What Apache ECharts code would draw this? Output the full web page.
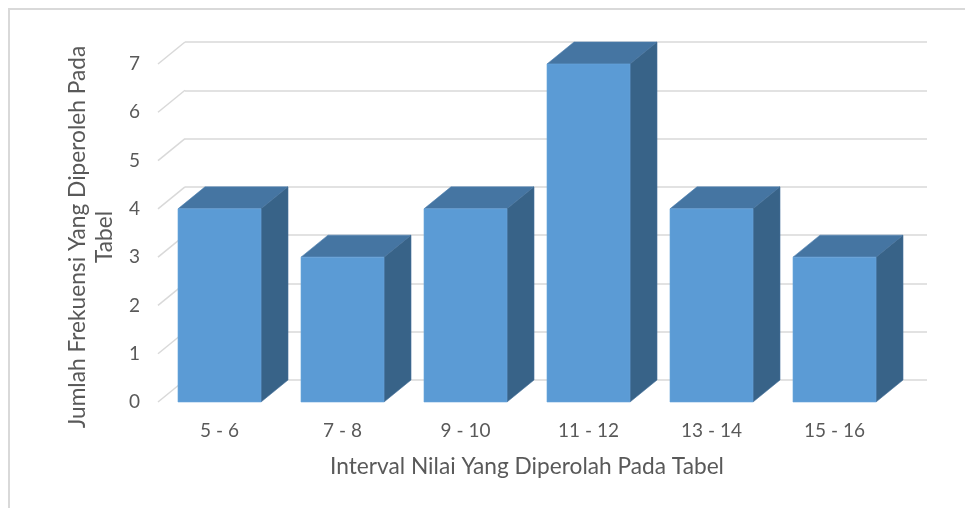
<!DOCTYPE html>
<html>
<head>
<meta charset="utf-8">
<script src="https://cdn.jsdelivr.net/npm/echarts@6/dist/echarts.min.js"></script>
<style>
html,body{margin:0;padding:0;background:#fff;}
#chart{width:965px;height:508px;}
</style>
</head>
<body>
<div id="chart"></div>
<script>
const categories = ['5 - 6', '7 - 8', '9 - 10', '11 - 12', '13 - 14', '15 - 16'];
const frequencies = [4, 3, 4, 7, 4, 3];
const yTicks = [0, 1, 2, 3, 4, 5, 6, 7];
const xTitle = 'Interval Nilai Yang Diperolah Pada Tabel';
const yTitle = 'Jumlah Frekuensi Yang Diperoleh Pada\nTabel';

const FONT = 'Lato';
const TEXT = '#595959';
const GRIDC = '#d9d9d9';
const DX = 27, DY = -22;

const chart = echarts.init(document.getElementById('chart'), null, {renderer: 'canvas'});

function renderBar(params, api) {
  const cat = api.value(0), v = api.value(1);
  const top = api.coord([cat, v]);
  const base = api.coord([cat, 0]);
  const band = api.size([1, 0])[0];
  const w = band * 0.675;
  const x0 = top[0] - w / 2, x1 = top[0] + w / 2;
  const ty = top[1], by = base[1];
  return {
    type: 'group',
    children: [
      {type: 'polygon', shape: {points: [[x0, ty], [x1, ty], [x1 + DX, ty + DY], [x0 + DX, ty + DY]]},
       style: {fill: '#4575A2', stroke: '#4f82b2', lineWidth: 0.6}},
      {type: 'polygon', shape: {points: [[x1, ty], [x1 + DX, ty + DY], [x1 + DX, by + DY], [x1, by]]},
       style: {fill: '#386388', stroke: '#44719a', lineWidth: 0.6}},
      {type: 'rect', shape: {x: x0, y: ty, width: w, height: by - ty},
       style: {fill: '#5B9BD5', stroke: '#6aa6dc', lineWidth: 0.6}}
    ]
  };
}

function renderDiag(params, api) {
  const v = api.value(0);
  const p = api.coord([0, v]);
  const left = params.coordSys.x;
  return {
    type: 'line',
    shape: {x1: left, y1: p[1], x2: left + DX, y2: p[1] + DY},
    style: {stroke: GRIDC, lineWidth: 1.5}
  };
}

const option = {
  animation: false,
  backgroundColor: '#ffffff',
  textStyle: {fontFamily: FONT},
  grid: [
    {left: 158, right: 69, top: 64, bottom: 106},
    {left: 185, right: 38, top: 42, bottom: 128}
  ],
  xAxis: [
    {
      type: 'category', gridIndex: 0, data: categories,
      axisLine: {show: false}, axisTick: {show: false},
      axisLabel: {fontSize: 19, color: TEXT, margin: 19, fontFamily: FONT},
      name: xTitle, nameLocation: 'middle', nameGap: 53,
      nameTextStyle: {fontSize: 22.7, color: TEXT, fontFamily: FONT}
    },
    {
      type: 'category', gridIndex: 1, data: categories, show: false
    }
  ],
  yAxis: [
    {
      type: 'value', gridIndex: 0, min: 0, max: 7, interval: 1,
      axisLine: {show: false}, axisTick: {show: false}, splitLine: {show: false},
      axisLabel: {fontSize: 19, color: TEXT, margin: 18, fontFamily: FONT}
    },
    {
      type: 'value', gridIndex: 1, min: 0, max: 7, interval: 1,
      axisLine: {show: false}, axisTick: {show: false}, axisLabel: {show: false},
      splitLine: {show: true, lineStyle: {color: GRIDC, width: 1.5}}
    }
  ],
  series: [
    {
      type: 'custom', xAxisIndex: 0, yAxisIndex: 0, z: 1,
      renderItem: renderDiag,
      data: yTicks.map(v => [v]),
      encode: {y: 0}
    },
    {
      type: 'custom', xAxisIndex: 0, yAxisIndex: 0, z: 3,
      renderItem: renderBar,
      data: categories.map((c, i) => [i, frequencies[i]]),
      encode: {x: 0, y: 1}
    }
  ],
  graphic: [
    {type: 'rect', shape: {x: 9, y: 9, width: 1200, height: 1200}, style: {fill: 'none', stroke: GRIDC, lineWidth: 2}, z: 0},
    {type: 'text', x: 91, y: 237, rotation: Math.PI / 2,
     style: {text: yTitle, fontSize: 22.7, fontFamily: FONT, fill: TEXT, align: 'center', verticalAlign: 'middle', lineHeight: 27}}
  ]
};
chart.setOption(option);
</script>
</body>
</html>
